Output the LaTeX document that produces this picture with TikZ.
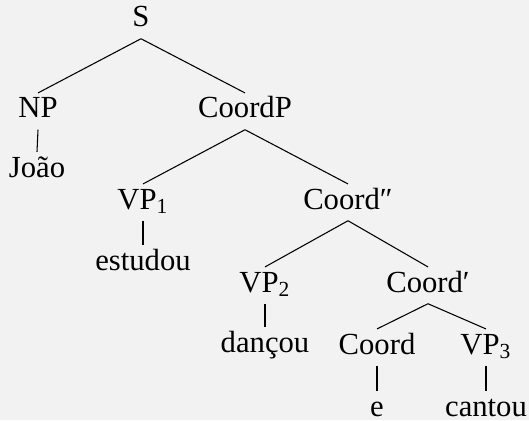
\documentclass[tikz,border=0pt]{standalone}
\usepackage{fontspec}
\setmainfont{Liberation Serif}
\usepackage{tikz}
\definecolor{bg}{HTML}{F2F2F2}

\begin{document}
\begin{tikzpicture}[x=0.375pt,y=-0.375pt,
    every node/.style={anchor=base,font=\fontsize{11.5}{13}\selectfont,
        text height=7pt,text depth=2pt,inner sep=2.2pt}]
\fill[bg] (0,0) rectangle (529,420);
\useasboundingbox (0,0) rectangle (529,420);

\node (S) at (141,27) {S};
\node (NP) at (38,118) {NP};
\node (CoordP) at (245,118) {CoordP};
\node (Joao) at (37,177) {João};
\node (VP_1) at (143,209) {VP\textsubscript{1}};
\node (Coord_2) at (348,209) {Coord″};
\node (estudou) at (143,270) {estudou};
\node (VP_2) at (265,292) {VP\textsubscript{2}};
\node (Coord_1) at (428,292) {Coord′};
\node (dancou) at (265,352) {dançou};
\node (Coord) at (377,354) {Coord};
\node (VP_3) at (486,354) {VP\textsubscript{3}};
\node (e) at (377,416) {e};
\node (cantou) at (486,416) {cantou};

\path (S.south) edge (NP.north)
    (S.south) edge (CoordP.north)
    (NP.south) edge (Joao.north)
    (CoordP.south) edge (VP_1.north)
    (CoordP.south) edge (Coord_2.north)
    (VP_1.south) edge (estudou.north)
    (Coord_2.south) edge (VP_2.north)
    (Coord_2.south) edge (Coord_1.north)
    (VP_2.south) edge (dancou.north)
    (Coord_1.south) edge (Coord.north)
    (Coord_1.south) edge (VP_3.north)
    (Coord.south) edge (e.north)
    (VP_3.south) edge (cantou.north);
\end{tikzpicture}
\end{document}
